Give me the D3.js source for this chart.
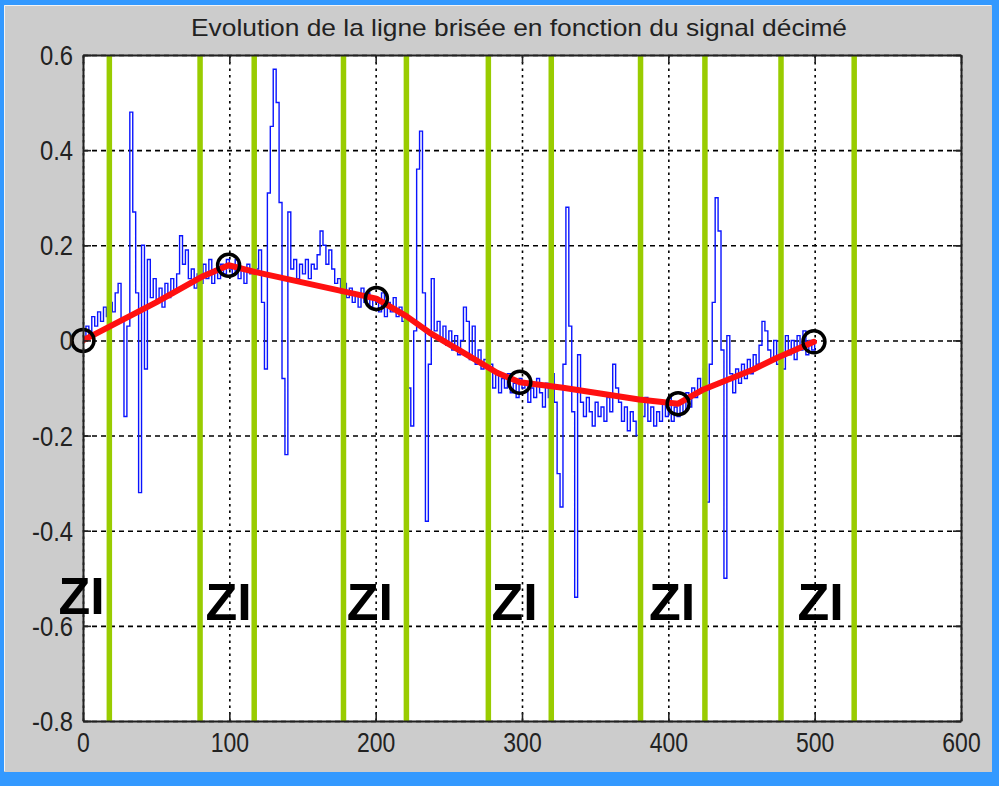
<!DOCTYPE html>
<html><head><meta charset="utf-8">
<script src="https://cdn.jsdelivr.net/npm/d3@7"></script>
<style>body{margin:0;background:#3399ff;overflow:hidden}</style>
</head><body>
<svg id="c" width="999" height="786"></svg>
<script>
// ---------- data ----------
const titleText = "Evolution de la ligne brisée en fonction du signal décimé";
const xTicks = [0, 100, 200, 300, 400, 500, 600];
const xTickLabels = ["0", "100", "200", "300", "400", "500", "600"];
const yTicks = [0.6, 0.4, 0.2, 0, -0.2, -0.4, -0.6, -0.8];
const yTickLabels = ["0.6", "0.4", "0.2", "0", "-0.2", "-0.4", "-0.6", "-0.8"];

// decimated signal, one value every 2 samples from 0 to 500
const signalStep = 2;
const signal = [
  0.00, 0.03, 0.01, 0.05, 0.03, 0.06, 0.04, 0.07, 0.05, 0.08,
  0.06, 0.10, 0.12, 0.04, -0.16, 0.03, 0.48, 0.27, 0.10, -0.32,
  0.20, -0.06, 0.17, 0.09, 0.13, 0.08, 0.11, 0.07, 0.12, 0.09,
  0.13, 0.10, 0.14, 0.22, 0.16, 0.19, 0.13, 0.15, 0.11, 0.14,
  0.12, 0.16, 0.13, 0.17, 0.12, 0.15, 0.13, 0.16, 0.14, 0.17,
  0.15, 0.14, 0.17, 0.13, 0.15, 0.12, 0.16, 0.14, 0.17, 0.15,
  0.19, 0.08, -0.06, 0.31, 0.45, 0.57, 0.50, 0.29, -0.08, -0.24,
  0.27, 0.15, 0.17, 0.13, 0.16, 0.14, 0.17, 0.13, 0.16, 0.15,
  0.18, 0.23, 0.20, 0.16, 0.19, 0.15, 0.12, 0.13, 0.10, 0.12,
  0.09, 0.11, 0.08, 0.10, 0.07, 0.11, 0.08, 0.10, 0.07, 0.09,
  0.08, 0.06, 0.10, 0.05, 0.08, 0.06, 0.09, 0.05, 0.07, 0.04,
  0.06, -0.10, -0.18, 0.02, 0.36, 0.44, 0.10, -0.38, -0.05, 0.13,
  0.02, 0.04, 0.00, 0.03, -0.01, 0.02, -0.02, 0.01, -0.03, 0.00,
  0.07, 0.04, -0.04, 0.03, -0.05, -0.02, -0.06, -0.04, -0.08, -0.05,
  -0.10, -0.07, -0.11, -0.08, -0.10, -0.07, -0.11, -0.09, -0.12, -0.08,
  -0.10, -0.09, -0.13, -0.10, -0.12, -0.08, -0.11, -0.14, -0.09, -0.12,
  -0.07, -0.13, -0.28, -0.35, -0.05, 0.28, 0.03, -0.15, -0.54, -0.03,
  -0.13, -0.16, -0.12, -0.15, -0.18, -0.13, -0.16, -0.14, -0.17, -0.12,
  -0.15, -0.05, -0.10, -0.13, -0.17, -0.14, -0.19, -0.15, -0.17, -0.20,
  -0.13, -0.16, -0.12, -0.17, -0.14, -0.18, -0.15, -0.17, -0.13, -0.16,
  -0.12, -0.17, -0.14, -0.16, -0.13, -0.15, -0.11, -0.14, -0.10, -0.12,
  -0.08, -0.11, -0.06, -0.34, -0.05, 0.08, 0.30, 0.23, -0.02, -0.50,
  0.01, -0.07, -0.11, -0.06, -0.09, -0.05, -0.08, -0.04, -0.07, -0.03,
  -0.05, -0.01, 0.04, 0.02, -0.02, -0.04, 0.00, -0.05, -0.02, -0.06,
  0.01, -0.03, 0.00, -0.04, 0.01, -0.02, 0.02, -0.03, 0.00, -0.02,
  0.00
];

// broken line (red)
const brokenX = [0, 50, 82, 99.5, 116, 200.5, 221, 237, 264, 283, 298.5, 328, 380, 406.7, 424, 458, 474, 499.5];
const brokenY = [0, 0.08, 0.135, 0.158, 0.145, 0.088, 0.051, 0.016, -0.033, -0.068, -0.088, -0.0995, -0.124, -0.133, -0.103, -0.061, -0.037, -0.003];

// nodes (black circles)
const nodeX = [0, 99.5, 200.5, 298.5, 406.7, 499.5];
const nodeY = [0, 0.158, 0.088, -0.088, -0.133, -0.003];

// zone boundaries (green verticals)
const zoneX = [18, 80, 117, 178, 221, 277, 320, 381, 425, 477, 527];

// "ZI" annotations
const ziLabel = "ZI";
const ziX = [-1, 99.5, 196, 295, 402.5, 504];
const ziY = [-0.575, -0.588, -0.588, -0.588, -0.588, -0.588];

// ---------- drawing ----------
const W = 999, H = 786;
const plot = {left: 83, right: 961, top: 55, bottom: 721};
const svg = d3.select("#c");
const font = "'Liberation Sans', Arial, sans-serif";

svg.append("rect").attr("width", W).attr("height", H).attr("fill", "#3399ff");
svg.append("rect").attr("x", 4).attr("y", 5).attr("width", 988).attr("height", 767).attr("fill", "#cccccc");
svg.append("path").attr("d", "M4.5,771 V5.5 H991").attr("fill", "none").attr("stroke", "#f4f4f4").attr("stroke-width", 1);

const x = d3.scaleLinear().domain([0, 600]).range([plot.left, plot.right]);
const y = d3.scaleLinear().domain([-0.8, 0.6]).range([plot.bottom, plot.top]);
const pw = plot.right - plot.left, ph = plot.bottom - plot.top;

svg.append("rect").attr("x", plot.left).attr("y", plot.top).attr("width", pw).attr("height", ph).attr("fill", "#ffffff");

// grid
const gridX = svg.append("g").attr("transform", `translate(0,${plot.bottom})`)
  .call(d3.axisBottom(x).tickValues(xTicks).tickSize(-ph).tickFormat(""));
gridX.select(".domain").remove();
gridX.selectAll("line").attr("stroke", "#000").attr("stroke-width", 1.6).attr("stroke-dasharray", "2.5,4");
const gridY = svg.append("g").attr("transform", `translate(${plot.left},0)`)
  .call(d3.axisLeft(y).tickValues(yTicks).tickSize(-pw).tickFormat(""));
gridY.select(".domain").remove();
gridY.selectAll("line").attr("stroke", "#000").attr("stroke-width", 1.6).attr("stroke-dasharray", "5,4");

// clip
svg.append("clipPath").attr("id", "clip").append("rect")
  .attr("x", plot.left).attr("y", plot.top).attr("width", pw).attr("height", ph);
const inner = svg.append("g").attr("clip-path", "url(#clip)");

// signal
const sigData = signal.map((v, i) => [i * signalStep, v]);
inner.append("path").datum(sigData)
  .attr("fill", "none").attr("stroke", "#0a14ff").attr("stroke-width", 1.4)
  .attr("d", d3.line().x(d => x(d[0])).y(d => y(d[1])).curve(d3.curveStepAfter));

// zone lines
inner.selectAll("line.zone").data(zoneX).join("line").attr("class", "zone")
  .attr("x1", d => x(d)).attr("x2", d => x(d)).attr("y1", plot.top).attr("y2", plot.bottom)
  .attr("stroke", "#99cc00").attr("stroke-width", 5.5);

// broken line
const bl = brokenX.map((v, i) => [v, brokenY[i]]);
inner.append("path").datum(bl)
  .attr("fill", "none").attr("stroke", "#ff1010").attr("stroke-width", 6)
  .attr("stroke-linejoin", "round").attr("stroke-linecap", "round")
  .attr("d", d3.line().x(d => x(d[0])).y(d => y(d[1])));

// nodes
svg.selectAll("circle.node").data(nodeX.map((v, i) => [v, nodeY[i]])).join("circle")
  .attr("class", "node").attr("cx", d => x(d[0])).attr("cy", d => y(d[1])).attr("r", 11)
  .attr("fill", "none").attr("stroke", "#000").attr("stroke-width", 3.5);

// axes box and ticks
const axB = svg.append("g").attr("transform", `translate(0,${plot.bottom})`)
  .call(d3.axisBottom(x).tickValues(xTicks).tickSizeInner(-8).tickSizeOuter(0).tickPadding(14).tickFormat((d, i) => xTickLabels[i]));
const axT = svg.append("g").attr("transform", `translate(0,${plot.top})`)
  .call(d3.axisTop(x).tickValues(xTicks).tickSizeInner(-8).tickSizeOuter(0).tickFormat(""));
const axL = svg.append("g").attr("transform", `translate(${plot.left},0)`)
  .call(d3.axisLeft(y).tickValues(yTicks).tickSizeInner(-8).tickSizeOuter(0).tickPadding(10).tickFormat((d, i) => yTickLabels[i]));
const axR = svg.append("g").attr("transform", `translate(${plot.right},0)`)
  .call(d3.axisRight(y).tickValues(yTicks).tickSizeInner(-8).tickSizeOuter(0).tickFormat(""));
[axB, axT, axL, axR].forEach(a => {
  a.select(".domain").attr("stroke", "#222").attr("stroke-width", 2);
  a.selectAll("line").attr("stroke", "#222").attr("stroke-width", 1.6);
});
axB.selectAll("text").attr("font-family", font).attr("font-size", 28).attr("fill", "#222")
  .attr("dy", "0.62em").attr("transform", "scale(0.82,1)");
axL.selectAll("text").attr("font-family", font).attr("font-size", 27).attr("fill", "#222")
  .attr("x", -10 / 0.88).attr("dy", "0.35em").attr("transform", "scale(0.88,1)");

// title
svg.append("text").attr("x", (plot.left + plot.right) / 2 - 3).attr("y", 36)
  .attr("text-anchor", "middle").attr("font-family", font).attr("font-size", 24).attr("fill", "#222")
  .attr("textLength", 656).attr("lengthAdjust", "spacingAndGlyphs").text(titleText);

// ZI labels
svg.selectAll("text.zi").data(ziX.map((v, i) => [v, ziY[i]])).join("text").attr("class", "zi")
  .attr("x", d => x(d[0])).attr("y", d => y(d[1]))
  .attr("text-anchor", "middle").attr("font-family", font).attr("font-weight", "bold")
  .attr("font-size", 52).attr("fill", "#000").text(ziLabel);
</script>
</body></html>
